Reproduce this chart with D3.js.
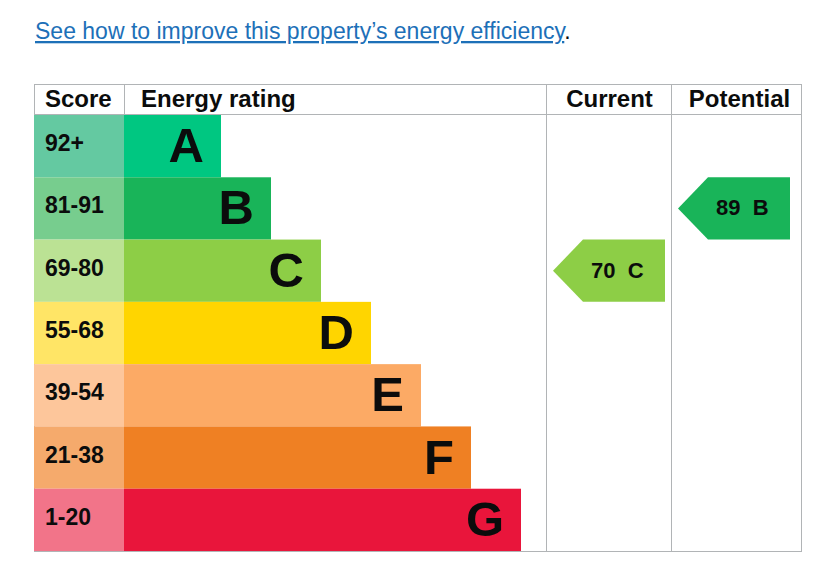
<!DOCTYPE html>
<html>
<head>
<meta charset="utf-8">
<script src="https://cdn.jsdelivr.net/npm/d3@7"></script>
<style>
  body { margin: 0; background: #fff; }
  text { font-family: "Liberation Sans", Arial, sans-serif; }
</style>
</head>
<body>
<div id="chart"></div>
<script>
// Chart data
var bands = ["A", "B", "C", "D", "E", "F", "G"];
var scoreLabels = ["92+", "81-91", "69-80", "55-68", "39-54", "21-38", "1-20"];
var bandMin = [92, 81, 69, 55, 39, 21, 1];
var bandColors = ["#00c781", "#19b459", "#8dce46", "#ffd500", "#fcaa65", "#ef8023", "#e9153b"];
var scoreColors = ["#64c9a1", "#77cd8e", "#bbe294", "#ffe566", "#fdc69b", "#f5aa6c", "#f27489"];
var headers = ["Score", "Energy rating", "Current", "Potential"];
var currentScore = 70;
var potentialScore = 89;

var svgWidth = 833;
var svgHeight = 580;

var svg = d3.select("#chart")
  .append("svg")
  .attr("width", svgWidth)
  .attr("height", svgHeight);

// link line above the table
var link = svg.append("text")
  .attr("x", 35)
  .attr("y", 39)
  .attr("font-family", "Roboto, 'Noto Sans', sans-serif")
  .attr("font-size", "23px");
link.append("tspan")
  .attr("fill", "#1d70b8")
  .attr("text-decoration", "underline")
  .text("See how to improve this property\u2019s energy efficiency");
link.append("tspan")
  .attr("fill", "#0b0c0c")
  .text(".");

// table geometry
var tLeft = 34, tRight = 802, tTop = 84, headBottom = 115, tBottom = 551;
var scoreRight = 124, energyRight = 546, currentRight = 671;

var y = d3.scaleBand()
  .domain(bands)
  .range([headBottom, tBottom]);

// bar end by band index
var barEnd = d3.scaleLinear()
  .domain([0, bands.length - 1])
  .range([221, 521]);

var grey = "#b1b4b6";

// table borders
svg.append("rect")
  .attr("x", tLeft + 0.5)
  .attr("y", tTop + 0.5)
  .attr("width", tRight - tLeft - 1)
  .attr("height", tBottom - tTop)
  .attr("fill", "none")
  .attr("stroke", grey);

svg.append("line")
  .attr("x1", tLeft).attr("x2", tRight)
  .attr("y1", headBottom - 0.5).attr("y2", headBottom - 0.5)
  .attr("stroke", grey);

svg.append("line")
  .attr("x1", scoreRight + 0.5).attr("x2", scoreRight + 0.5)
  .attr("y1", tTop).attr("y2", headBottom)
  .attr("stroke", grey);

[energyRight, currentRight].forEach(function(xv) {
  svg.append("line")
    .attr("x1", xv + 0.5).attr("x2", xv + 0.5)
    .attr("y1", tTop).attr("y2", tBottom)
    .attr("stroke", grey);
});

// headers
var headX = [45, 141, (energyRight + currentRight) / 2 + 1, (currentRight + tRight) / 2 + 3];
headers.forEach(function(h, i) {
  svg.append("text")
    .attr("x", headX[i])
    .attr("y", 107)
    .attr("text-anchor", i < 2 ? "start" : "middle")
    .attr("font-size", "24px")
    .attr("font-weight", "bold")
    .attr("fill", "#0b0c0c")
    .text(h);
});

var rows = svg.selectAll(".row")
  .data(bands)
  .enter()
  .append("g")
  .attr("class", "row");

// score cells (lighter tint)
rows.append("rect")
  .attr("x", tLeft)
  .attr("y", d => y(d))
  .attr("width", scoreRight - tLeft)
  .attr("height", y.bandwidth())
  .attr("fill", (d, i) => scoreColors[i]);

rows.append("text")
  .attr("x", 45)
  .attr("y", d => y(d) + y.bandwidth() / 2 + 5)
  .attr("font-size", "23px")
  .attr("font-weight", "bold")
  .attr("fill", "#0b0c0c")
  .text((d, i) => scoreLabels[i]);

// rating bars
rows.append("rect")
  .attr("x", scoreRight)
  .attr("y", d => y(d))
  .attr("width", (d, i) => barEnd(i) - scoreRight)
  .attr("height", y.bandwidth())
  .attr("fill", (d, i) => bandColors[i]);

rows.append("text")
  .attr("x", (d, i) => barEnd(i) - 17)
  .attr("y", d => y(d) + y.bandwidth() / 2 + 16)
  .attr("text-anchor", "end")
  .attr("font-size", "49px")
  .attr("font-weight", "bold")
  .attr("fill", "#0b0c0c")
  .text(d => d);

// current / potential arrows
function bandOf(score) {
  for (var i = 0; i < bandMin.length; i++) {
    if (score >= bandMin[i]) return i;
  }
  return bandMin.length - 1;
}

function drawArrow(score, tipX, endX) {
  var i = bandOf(score);
  var y0 = y(bands[i]);
  var h = y.bandwidth();
  var notch = 30;
  var pts = [[tipX, y0 + h / 2], [tipX + notch, y0], [endX, y0], [endX, y0 + h], [tipX + notch, y0 + h]];
  svg.append("path")
    .attr("d", d3.line()(pts) + "Z")
    .attr("fill", bandColors[i]);
  svg.append("text")
    .attr("x", tipX + 38)
    .attr("y", y0 + h / 2 + 7)
    .attr("font-size", "22px")
    .attr("font-weight", "bold")
    .attr("fill", "#0b0c0c")
    .style("white-space", "pre")
    .text(score + "  " + bands[i]);
}

drawArrow(currentScore, 553, 665);
drawArrow(potentialScore, 678, 790);
</script>
</body>
</html>
